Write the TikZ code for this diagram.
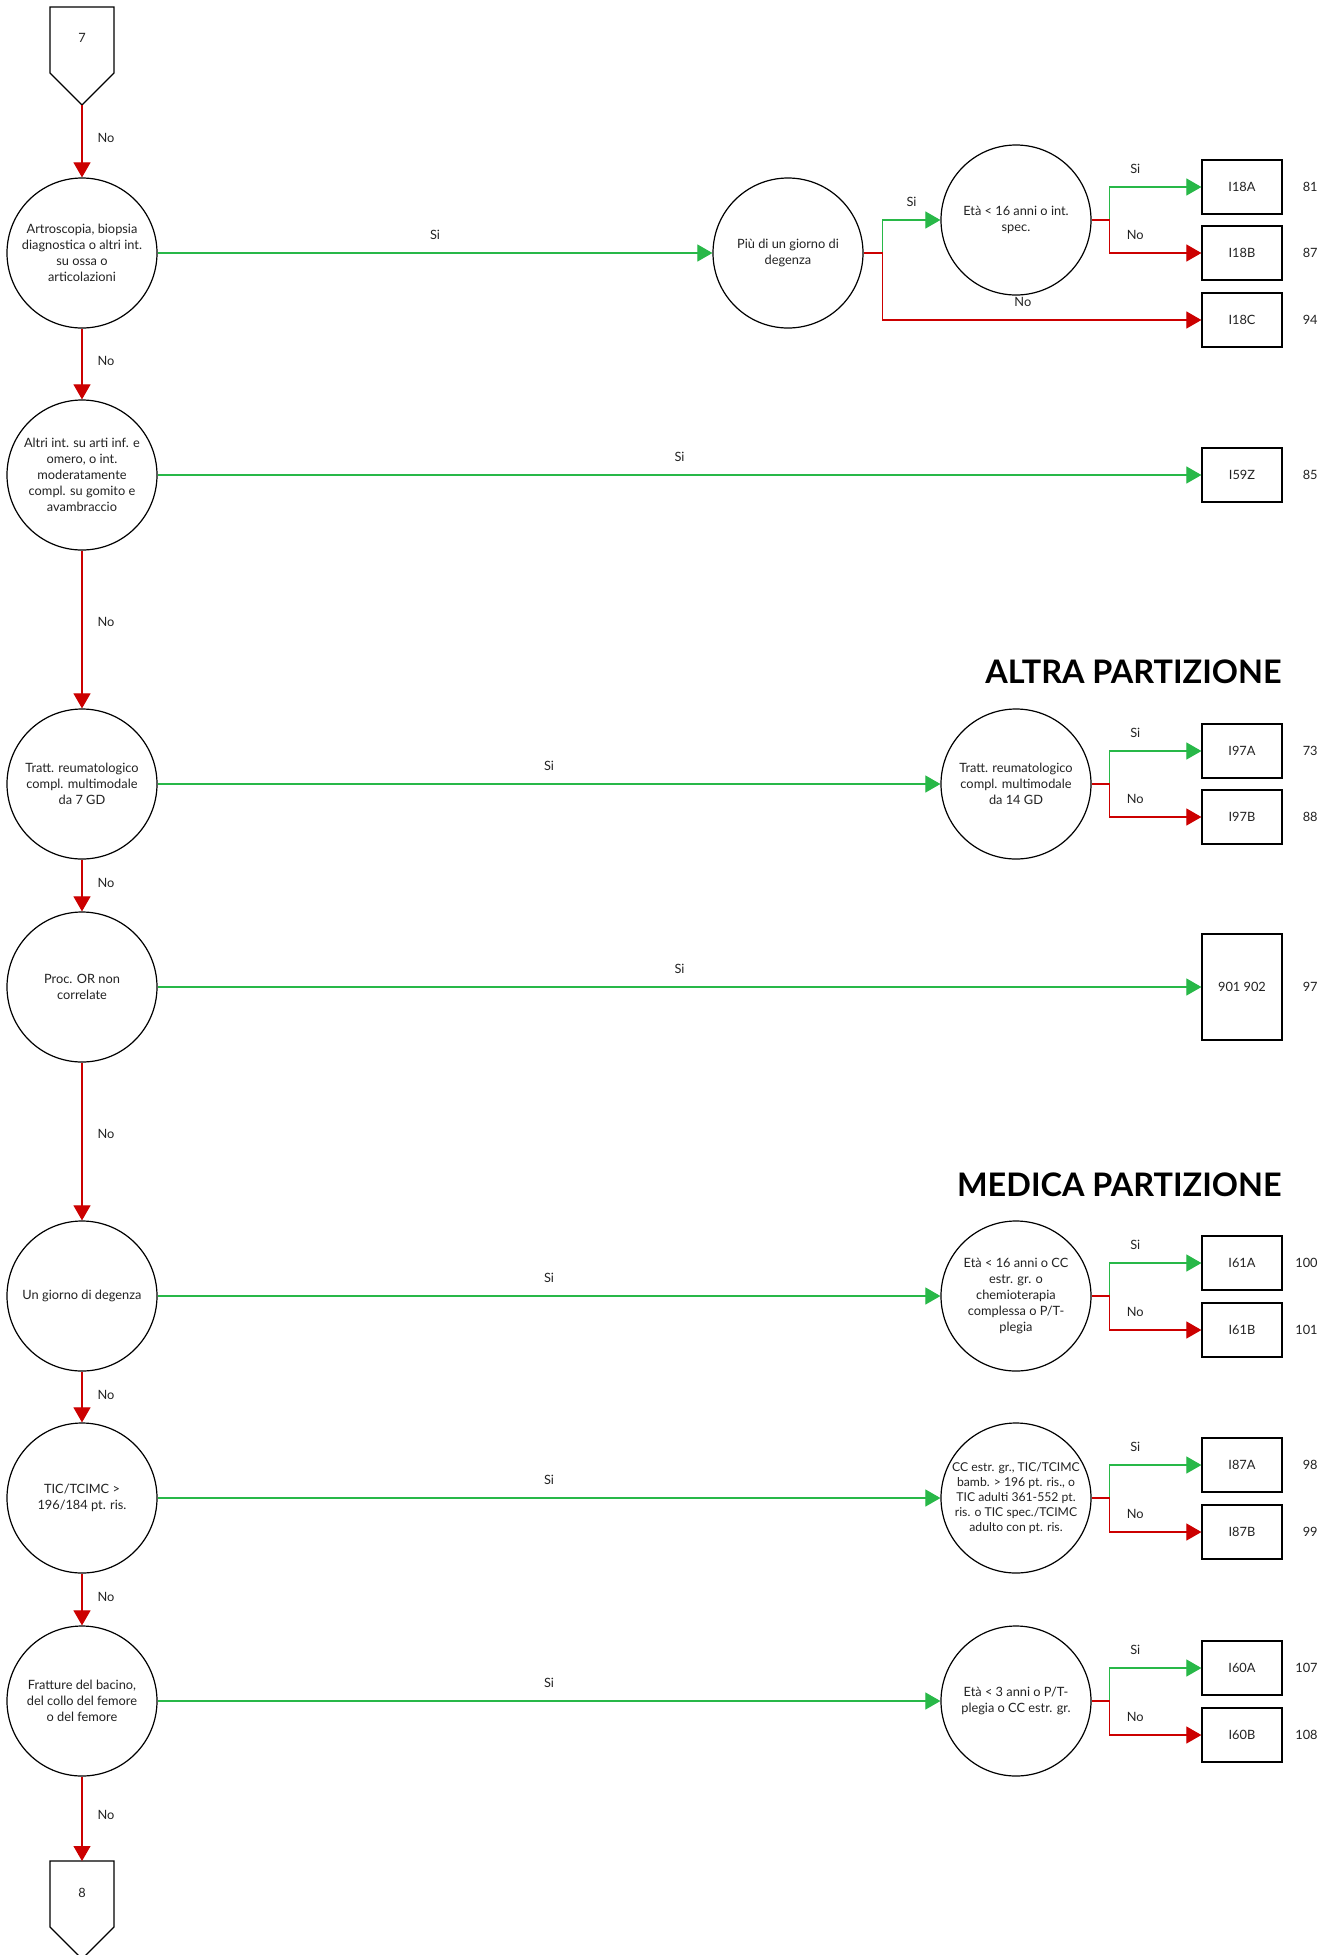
\documentclass[tikz,border=0pt]{standalone}
\usepackage{fontspec}
\setmainfont{Lato}
\usetikzlibrary{arrows.meta}
\definecolor{gr}{RGB}{40,184,72}
\definecolor{rd}{RGB}{204,0,0}
\definecolor{tx}{RGB}{34,34,34}
\begin{document}
\begin{tikzpicture}[x=0.5pt,y=-0.5pt,
  every node/.style={font=\fontsize{6.4pt}{8pt}\selectfont, text=tx},
  q/.style={circle, draw=black, line width=0.6pt, minimum size=75pt, inner sep=0pt, align=center},
  leaf/.style={draw=black, line width=0.6pt, minimum width=40pt, minimum height=27pt, inner sep=0pt},
  pent/.style={draw=black, line width=0.6pt},
  yes/.style={draw=gr, line width=0.55pt, -{Triangle[length=7.5pt,width=8.5pt]}},
  no/.style={draw=rd, line width=0.55pt, -{Triangle[length=7.5pt,width=8.5pt]}},
  hlab/.style={above=6.5pt, inner sep=0pt},
  vlab/.style={right=7.5pt, inner sep=0pt, pos=0.45},
  num/.style={anchor=east, inner sep=0pt},
  ttl/.style={anchor=base east, inner sep=0pt, font=\fontsize{16.2pt}{19pt}\selectfont\bfseries, text=black}
]
\fill[white] (0,0) rectangle (1335,1955);
\useasboundingbox (0,0) rectangle (1335,1955);

% start / end connectors
\draw[pent] (50,7) -- (114,7) -- (114,73) -- (82,105) -- (50,73) -- cycle;
\node (p7) at (82,38) {7};
\coordinate (p7tip) at (82,105);
\draw[pent] (50,1861) -- (114,1861) -- (114,1927) -- (82,1959) -- (50,1927) -- cycle;
\node (p8) at (82,1893) {8};
\coordinate (p8top) at (82,1861);

% left column
\node[q] (c1) at (82,253) {Artroscopia, biopsia\\diagnostica o altri int.\\su ossa o\\articolazioni};
\node[q] (c2) at (82,475) {Altri int. su arti inf. e\\omero, o int.\\moderatamente\\compl. su gomito e\\avambraccio};
\node[q] (c3) at (82,784) {Tratt. reumatologico\\compl. multimodale\\da 7 GD};
\node[q] (c4) at (82,987) {Proc. OR non\\correlate};
\node[q] (c5) at (82,1296) {Un giorno di degenza};
\node[q] (c6) at (82,1498) {TIC/TCIMC >\\196/184 pt. ris.};
\node[q] (c7) at (82,1701) {Fratture del bacino,\\del collo del femore\\o del femore};

% right side
\node[q] (piu) at (788,253) {Più di un giorno di\\degenza};
\node[q] (eta1) at (1016,220) {Età < 16 anni o int.\\spec.};
\node[leaf] (i18a) at (1242,187) {I18A};
\node[leaf] (i18b) at (1242,253) {I18B};
\node[leaf] (i18c) at (1242,320) {I18C};
\node[num] (n81) at (1318,187) {81};
\node[num] (n87) at (1318,253) {87};
\node[num] (n94) at (1318,320) {94};

\node[leaf] (i59z) at (1242,475) {I59Z};
\node[num] (n85) at (1318,475) {85};

\node[ttl] (altra) at (1282,683) {ALTRA PARTIZIONE};
\node[q] (t14) at (1016,784) {Tratt. reumatologico\\compl. multimodale\\da 14 GD};
\node[leaf] (i97a) at (1242,751) {I97A};
\node[leaf] (i97b) at (1242,817) {I97B};
\node[num] (n73) at (1318,751) {73};
\node[num] (n88) at (1318,817) {88};

\node[leaf, minimum height=53pt] (r901) at (1242,987) {901 902};
\node[num] (n97) at (1318,987) {97};

\node[ttl] (medica) at (1282,1196) {MEDICA PARTIZIONE};
\node[q] (e16) at (1016,1296) {Età < 16 anni o CC\\estr. gr. o\\chemioterapia\\complessa o P/T-\\plegia};
\node[leaf] (i61a) at (1242,1263) {I61A};
\node[leaf] (i61b) at (1242,1330) {I61B};
\node[num] (n100) at (1318,1263) {100};
\node[num] (n101) at (1318,1330) {101};

\node[q, font=\fontsize{6.1pt}{7.6pt}\selectfont] (ccx) at (1016,1498) {CC estr. gr., TIC/TCIMC\\bamb. > 196 pt. ris., o\\TIC adulti 361-552 pt.\\ris. o TIC spec./TCIMC\\adulto con pt. ris.};
\node[leaf] (i87a) at (1242,1465) {I87A};
\node[leaf] (i87b) at (1242,1532) {I87B};
\node[num] (n98) at (1318,1465) {98};
\node[num] (n99) at (1318,1532) {99};

\node[q] (e3) at (1016,1701) {Età < 3 anni o P/T-\\plegia o CC estr. gr.};
\node[leaf] (i60a) at (1242,1668) {I60A};
\node[leaf] (i60b) at (1242,1735) {I60B};
\node[num] (n107) at (1318,1668) {107};
\node[num] (n108) at (1318,1735) {108};

% vertical "No" chain
\draw[no] (p7tip) -- node[vlab]{No} (c1);
\draw[no] (c1) -- node[vlab]{No} (c2);
\draw[no] (c2) -- node[vlab]{No} (c3);
\draw[no] (c3) -- node[vlab]{No} (c4);
\draw[no] (c4) -- node[vlab]{No} (c5);
\draw[no] (c5) -- node[vlab]{No} (c6);
\draw[no] (c6) -- node[vlab]{No} (c7);
\draw[no] (c7) -- node[vlab]{No} (p8top);

% horizontal "Si"
\draw[yes] (c1) -- node[hlab]{Si} (piu);
\draw[yes] (c2) -- node[hlab]{Si} (i59z);
\draw[yes] (c3) -- node[hlab]{Si} (t14);
\draw[yes] (c4) -- node[hlab]{Si} (r901);
\draw[yes] (c5) -- node[hlab]{Si} (e16);
\draw[yes] (c6) -- node[hlab]{Si} (ccx);
\draw[yes] (c7) -- node[hlab]{Si} (e3);

% branches
\draw[yes] (piu.east) -- ++(19,0) |- node[hlab, pos=0.75]{Si} (eta1.west);
\draw[no] (piu.east) -- ++(19,0) |- node[hlab, pos=0.72]{No} (i18c.west);

\draw[yes] (eta1.east) -- ++(18,0) |- node[hlab, pos=0.64]{Si} (i18a.west);
\draw[no] (eta1.east) -- ++(18,0) |- node[hlab, pos=0.64]{No} (i18b.west);

\draw[yes] (t14.east) -- ++(18,0) |- node[hlab, pos=0.64]{Si} (i97a.west);
\draw[no] (t14.east) -- ++(18,0) |- node[hlab, pos=0.64]{No} (i97b.west);

\draw[yes] (e16.east) -- ++(18,0) |- node[hlab, pos=0.64]{Si} (i61a.west);
\draw[no] (e16.east) -- ++(18,0) |- node[hlab, pos=0.64]{No} (i61b.west);

\draw[yes] (ccx.east) -- ++(18,0) |- node[hlab, pos=0.64]{Si} (i87a.west);
\draw[no] (ccx.east) -- ++(18,0) |- node[hlab, pos=0.64]{No} (i87b.west);

\draw[yes] (e3.east) -- ++(18,0) |- node[hlab, pos=0.64]{Si} (i60a.west);
\draw[no] (e3.east) -- ++(18,0) |- node[hlab, pos=0.64]{No} (i60b.west);
\end{tikzpicture}
\end{document}
